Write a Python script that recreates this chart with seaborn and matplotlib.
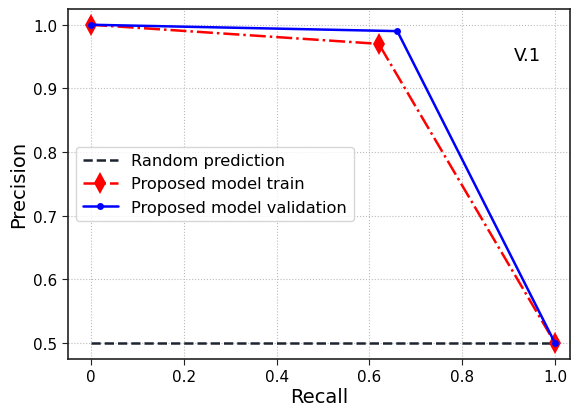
import pandas as pd
import matplotlib
matplotlib.use('Agg')
import matplotlib.pyplot as plt
import seaborn as sns

# Precision-recall points
random_recall = [0, 1]
random_precision = [0.5, 0.5]

train_recall = [0, 0.62, 1.0]
train_precision = [1.0, 0.97, 0.5]

val_recall = [0, 0.66, 1.0]
val_precision = [1.0, 0.99, 0.5]

sns.set_style('ticks', {'text.color': 'black', 'xtick.color': 'black',
                        'ytick.color': 'black', 'axes.labelcolor': 'black'})
plt.rcParams['font.family'] = ['DejaVu Sans']

fig = plt.figure(figsize=(5.71, 4.10), dpi=100)
ax = fig.add_axes([0.119, 0.122, 0.879, 0.854])

sns.lineplot(x=random_recall, y=random_precision, ax=ax, color='#1c2331', linestyle='--',
             linewidth=1.8, label='Random prediction')
sns.lineplot(x=train_recall, y=train_precision, ax=ax, color='red', linestyle='-.',
             linewidth=1.8, marker='d', markersize=11, markeredgewidth=0,
             label='Proposed model train')
sns.lineplot(x=val_recall, y=val_precision, ax=ax, color='blue', linestyle='-',
             linewidth=1.8, marker='o', markersize=5, markeredgewidth=0,
             label='Proposed model validation')

ax.set_xlim(-0.05, 1.032)
ax.set_ylim(0.475, 1.025)
ax.set_xticks([0, 0.2, 0.4, 0.6, 0.8, 1.0])
ax.set_xticklabels(['0', '0.2', '0.4', '0.6', '0.8', '1.0'])
ax.set_yticks([0.5, 0.6, 0.7, 0.8, 0.9, 1.0])
ax.grid(True, linestyle=':', color='#bbbbbb', linewidth=0.8)
ax.tick_params(labelsize=11, length=4, color='#222222')
for s in ax.spines.values():
    s.set_color('#222222')
    s.set_linewidth(1.2)

ax.set_xlabel('Recall', fontsize=14, labelpad=2)
ax.set_ylabel('Precision', fontsize=14)
ax.text(0.94, 0.953, 'V.1', fontsize=13, ha='center', va='center')

ax.legend(loc='center left', bbox_to_anchor=(0.0, 0.5), fontsize=11.7, frameon=True,
          handlelength=2.2, borderaxespad=0.5)

plt.savefig('out.png', dpi=100)
